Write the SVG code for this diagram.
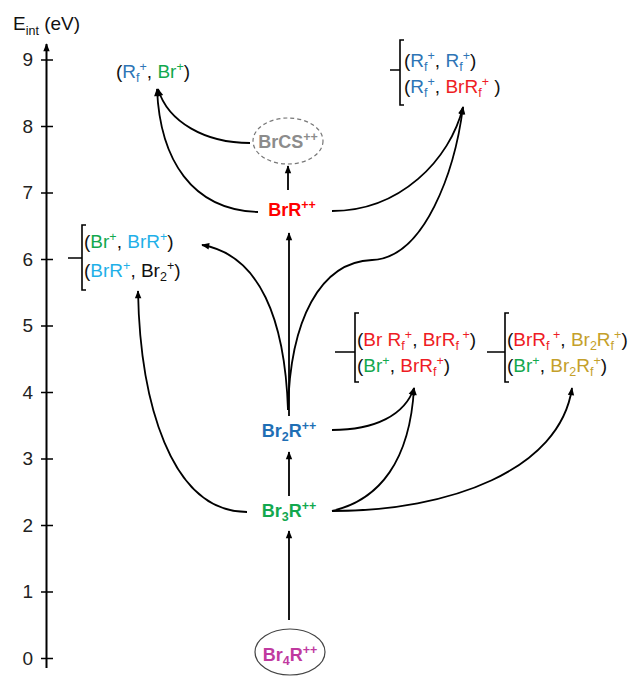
<svg xmlns="http://www.w3.org/2000/svg" width="632" height="677" viewBox="0 0 632 677">
<style>
text{font-family:"Liberation Sans",Arial,sans-serif;font-size:19px;fill:#111}
.s{font-size:12.5px}
.node{font-weight:bold;text-anchor:middle;font-size:18px}
.node .s{font-size:12.5px}
.ax{text-anchor:end;fill:#222}
.b{fill:#2e75b6}.g{fill:#12a84e}.r{fill:#ee1c24}.lb{fill:#1fb0e8}.y{fill:#c4a02a}.k{fill:#111}
.con{fill:none;stroke:#000;stroke-width:1.8;marker-end:url(#ah)}
.br{fill:none;stroke:#000;stroke-width:1.6}
</style>
<defs>
<marker id="ah" viewBox="0 0 10 10" refX="9" refY="5" markerWidth="9" markerHeight="8" markerUnits="userSpaceOnUse" orient="auto"><path d="M0,1 L10,5 L0,9 z" fill="#000"/></marker>
</defs>
<rect width="632" height="677" fill="#fff"/>
<g id="axis">
<text x="13" y="30">E<tspan class="s" dy="5">int</tspan><tspan dy="-5"> (eV)</tspan></text>
<line x1="46.5" y1="668" x2="46.5" y2="44" stroke="#000" stroke-width="2" marker-end="url(#ah)"/>
<path d="M41,658.5H53M41,592H53M41,525.5H53M41,459H53M41,392.5H53M41,326H53M41,259.5H53M41,193H53M41,126.5H53M41,60H53" stroke="#000" stroke-width="1.6"/>
<text class="ax" x="33" y="665">0</text>
<text class="ax" x="33" y="598">1</text>
<text class="ax" x="33" y="532">2</text>
<text class="ax" x="33" y="465">3</text>
<text class="ax" x="33" y="399">4</text>
<text class="ax" x="33" y="332">5</text>
<text class="ax" x="33" y="266">6</text>
<text class="ax" x="33" y="199">7</text>
<text class="ax" x="33" y="133">8</text>
<text class="ax" x="33" y="66">9</text>
</g>
<g id="connectors">
<path class="con" d="M289,620V531"/>
<path class="con" d="M289,496V452"/>
<path class="con" d="M289,416V233"/>
<path class="con" d="M288,190V166"/>
<path class="con" d="M250,143C205,143 168,122 158,89"/>
<path class="con" d="M258,212C192,210 160,160 157,89"/>
<path class="con" d="M332,211C400,211 450,160 463,107"/>
<path class="con" d="M288,410C290,320 320,262 372,260C425,258 455,170 463,107"/>
<path class="con" d="M288,410C285,320 260,255 202,245"/>
<path class="con" d="M247,512C170,512 140,400 138,291"/>
<path class="con" d="M332,430C375,430 405,415 414,388"/>
<path class="con" d="M332,511C380,500 410,460 414,388"/>
<path class="con" d="M332,511C450,511 560,470 572,388"/>
</g>
<g id="Br4R">
<ellipse cx="290" cy="652" rx="35" ry="23" fill="none" stroke="#444" stroke-width="1.2"/>
<text class="node" x="290" y="661" style="fill:#c0399f">Br<tspan class="s" dy="4">4</tspan><tspan dy="-4">R</tspan><tspan class="s" dy="-7">++</tspan></text>
</g>
<g id="Br3R">
<text class="node g" x="289" y="517">Br<tspan class="s" dy="4">3</tspan><tspan dy="-4">R</tspan><tspan class="s" dy="-7">++</tspan></text>
</g>
<g id="Br2R">
<text class="node" x="289" y="437" style="fill:#1f6fb5">Br<tspan class="s" dy="4">2</tspan><tspan dy="-4">R</tspan><tspan class="s" dy="-7">++</tspan></text>
</g>
<g id="BrR">
<text class="node" x="292" y="216" style="fill:#ff0000">BrR<tspan class="s" dy="-7">++</tspan></text>
</g>
<g id="BrCS">
<ellipse cx="288" cy="141" rx="35" ry="23" fill="none" stroke="#777" stroke-width="1.2" stroke-dasharray="4,3"/>
<text class="node" x="288" y="148" style="fill:#8c8c8c">BrCS<tspan class="s" dy="-7">++</tspan></text>
</g>
<g id="prod-RfBr">
<text x="116" y="78">(<tspan class="b">R</tspan><tspan class="s b" dy="4">f</tspan><tspan class="s b" dy="-11">+</tspan><tspan dy="7">, </tspan><tspan class="g">Br</tspan><tspan class="s g" dy="-7">+</tspan><tspan dy="7">)</tspan></text>
</g>
<g id="prod-top-right">
<path class="br" d="M390,70H400M404,40H400V105H404"/>
<text x="404" y="67">(<tspan class="b">R</tspan><tspan class="s b" dy="4">f</tspan><tspan class="s b" dy="-11">+</tspan><tspan dy="7">, </tspan><tspan class="b">R</tspan><tspan class="s b" dy="4">f</tspan><tspan class="s b" dy="-11">+</tspan><tspan dy="7">)</tspan></text>
<text x="404" y="93">(<tspan class="b">R</tspan><tspan class="s b" dy="4">f</tspan><tspan class="s b" dy="-11">+</tspan><tspan dy="7">, </tspan><tspan class="r">BrR</tspan><tspan class="s r" dy="4">f</tspan><tspan class="s r" dy="-11">+</tspan><tspan dy="7"> )</tspan></text>
</g>
<g id="prod-left">
<path class="br" d="M68,258H82M86,225H82V290H86"/>
<text x="84" y="248">(<tspan class="g">Br</tspan><tspan class="s g" dy="-7">+</tspan><tspan dy="7">, </tspan><tspan class="lb">BrR</tspan><tspan class="s lb" dy="-7">+</tspan><tspan dy="7">)</tspan></text>
<text x="84" y="277">(<tspan class="lb">BrR</tspan><tspan class="s lb" dy="-7">+</tspan><tspan dy="7">, Br</tspan><tspan class="s" dy="4">2</tspan><tspan class="s" dy="-11">+</tspan><tspan dy="7">)</tspan></text>
</g>
<g id="prod-mid1">
<path class="br" d="M335,352H355M359,313H355V382H359"/>
<text x="357" y="346">(<tspan class="r">Br R</tspan><tspan class="s r" dy="4">f</tspan><tspan class="s r" dy="-11">+</tspan><tspan dy="7">, </tspan><tspan class="r">BrR</tspan><tspan class="s r" dy="4">f</tspan><tspan class="s r" dy="-11"> +</tspan><tspan dy="7">)</tspan></text>
<text x="357" y="372">(<tspan class="g">Br</tspan><tspan class="s g" dy="-7">+</tspan><tspan dy="7">, </tspan><tspan class="r">BrR</tspan><tspan class="s r" dy="4">f</tspan><tspan class="s r" dy="-11">+</tspan><tspan dy="7">)</tspan></text>
</g>
<g id="prod-mid2">
<path class="br" d="M487,352H505M509,313H505V382H509"/>
<text x="507" y="346">(<tspan class="r">BrR</tspan><tspan class="s r" dy="4">f</tspan><tspan class="s r" dy="-11"> +</tspan><tspan dy="7">, </tspan><tspan class="y">Br</tspan><tspan class="s y" dy="4">2</tspan><tspan class="y" dy="-4">R</tspan><tspan class="s y" dy="4">f</tspan><tspan class="s y" dy="-11">+</tspan><tspan dy="7">)</tspan></text>
<text x="507" y="372">(<tspan class="g">Br</tspan><tspan class="s g" dy="-7">+</tspan><tspan dy="7">, </tspan><tspan class="y">Br</tspan><tspan class="s y" dy="4">2</tspan><tspan class="y" dy="-4">R</tspan><tspan class="s y" dy="4">f</tspan><tspan class="s y" dy="-11">+</tspan><tspan dy="7">)</tspan></text>
</g>
</svg>
